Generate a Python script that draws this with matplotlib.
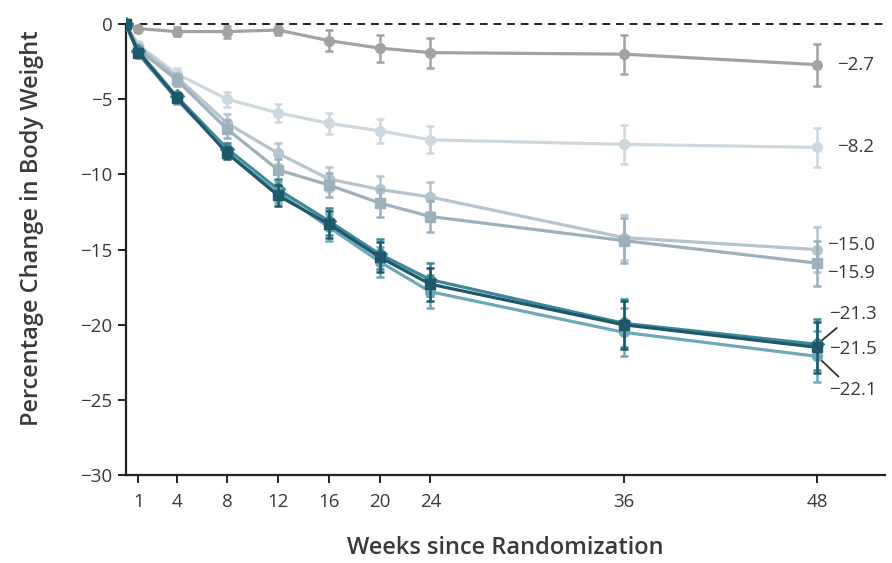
import numpy as np
import matplotlib
matplotlib.use("Agg")
import matplotlib.pyplot as plt

plt.rcParams['font.family'] = ['Open Sans', 'DejaVu Sans']

# data
weeks = [0, 1, 4, 8, 12, 16, 20, 24, 36, 48]
week_ticks = [1, 4, 8, 12, 16, 20, 24, 36, 48]

placebo = [0, -0.3, -0.5, -0.5, -0.4, -1.1, -1.6, -1.9, -2.0, -2.7]
placebo_err = [0, 0.2, 0.3, 0.4, 0.3, 0.7, 0.9, 1.0, 1.3, 1.4]

arm_82 = [0, -1.4, -3.3, -5.0, -5.9, -6.6, -7.1, -7.7, -8.0, -8.2]
arm_82_err = [0, 0.2, 0.4, 0.5, 0.6, 0.7, 0.8, 0.9, 1.3, 1.3]

arm_150 = [0, -1.5, -3.5, -6.6, -8.6, -10.3, -11.0, -11.5, -14.2, -15.0]
arm_150_err = [0, 0.2, 0.4, 0.6, 0.7, 0.8, 0.9, 1.0, 1.5, 1.5]

arm_159 = [0, -1.7, -3.7, -7.0, -9.7, -10.7, -11.9, -12.8, -14.4, -15.9]
arm_159_err = [0, 0.2, 0.4, 0.6, 0.7, 0.8, 0.9, 1.0, 1.5, 1.5]

arm_213 = [0, -1.8, -4.8, -8.3, -11.0, -13.1, -15.3, -17.0, -19.9, -21.3]
arm_215 = [0, -1.9, -4.9, -8.6, -11.4, -13.3, -15.5, -17.3, -20.0, -21.5]
arm_221 = [0, -2.0, -5.0, -8.5, -11.2, -13.5, -15.8, -17.8, -20.5, -22.1]
dark_err = [0, 0.2, 0.3, 0.4, 0.7, 0.9, 1.0, 1.1, 1.6, 1.7]

end_labels = ['\u22122.7', '\u22128.2', '\u221215.0', '\u221215.9', '\u221221.3', '\u221221.5', '\u221222.1']


# x axis is stretched after week 24 in the original figure
def fwd(w):
    w = np.asarray(w, dtype=float)
    return np.where(w <= 24, w, 24 + (w - 24) * 1.27)


def inv(u):
    u = np.asarray(u, dtype=float)
    return np.where(u <= 24, u, 24 + (u - 24) / 1.27)


fig = plt.figure(figsize=(8.92, 5.63), dpi=100)
ax = fig.add_axes([0.141, 0.156, 0.851, 0.844])
ax.set_xscale('function', functions=(fwd, inv))

ax.axhline(0, color='#222222', lw=1.4, ls=(0, (4, 3)), zorder=1)

series = [
    (placebo, placebo_err, '#a2a2a2', 'o', 3),
    (arm_82, arm_82_err, '#cdd8df', 'o', 2),
    (arm_150, arm_150_err, '#b6c4ce', 'o', 2),
    (arm_159, arm_159_err, '#9db1bc', 's', 3),
    (arm_213, dark_err, '#3c8799', 'D', 4),
    (arm_221, dark_err, '#6ea9b9', 'o', 4),
    (arm_215, dark_err, '#1e586a', 's', 5),
]
for vals, err, col, mk, z in series:
    ax.errorbar(weeks, vals, yerr=err, color=col, lw=2.3, marker=mk, ms=7,
                elinewidth=1.8, capsize=3, capthick=1.8, zorder=z)

# end-of-line value labels
finals = [placebo[-1], arm_82[-1], arm_150[-1], arm_159[-1],
          arm_213[-1], arm_215[-1], arm_221[-1]]
offsets = [(20, 0), (20, 0), (10, 5), (10, -10), (12, 30), (12, -2), (12, -34)]
for lab, v, off in zip(end_labels, finals, offsets):
    conn = None
    if abs(off[1]) > 20:
        conn = dict(arrowstyle='-', color='#333333', lw=1.3,
                    shrinkA=2, shrinkB=0)
    ax.annotate(lab, xy=(48, v), xytext=off, textcoords='offset pixels',
                ha='left', va='center', fontsize=13.5, color='#3a3a3a',
                arrowprops=conn)

ax.set_xlim(0, 52.2)
ax.set_ylim(-30, 1.6)
ax.set_xticks(week_ticks)
ax.set_xticklabels([str(w) for w in week_ticks])
ax.set_yticks([0, -5, -10, -15, -20, -25, -30])
ax.set_yticklabels(['0', '\u22125', '\u221210', '\u221215', '\u221220', '\u221225', '\u221230'])
ax.minorticks_off()

for s in ['top', 'right']:
    ax.spines[s].set_visible(False)
ax.spines['left'].set_bounds(-30, 0)
for s in ['left', 'bottom']:
    ax.spines[s].set_color('#222222')
    ax.spines[s].set_linewidth(1.6)
ax.tick_params(axis='both', direction='out', length=6, width=1.4,
               color='#222222', labelsize=13.5, labelcolor='#3a3a3a')
ax.tick_params(axis='x', pad=7)

ax.set_xlabel('Weeks since Randomization', fontsize=17, fontweight='semibold',
              color='#3a3a3a', labelpad=18)
ax.set_ylabel('Percentage Change in Body Weight', fontsize=17,
              fontweight='semibold', color='#3a3a3a')
ax.yaxis.set_label_coords(-0.108, 0.52)

fig.savefig('out.png', dpi=100)
